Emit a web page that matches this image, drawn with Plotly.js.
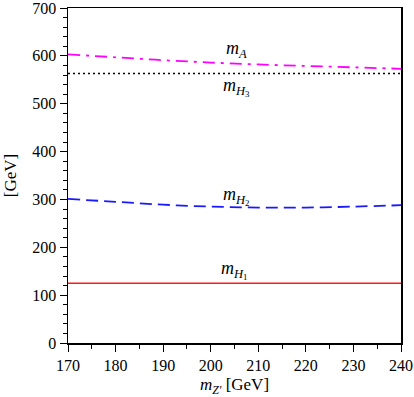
<!DOCTYPE html>
<html>
<head>
<meta charset="utf-8">
<script src="https://cdn.plot.ly/plotly-3.0.1.min.js"></script>
<style>
  body { margin: 0; background: #fff; }
  #plotArea { width: 414px; height: 397px; }
</style>
</head>
<body>
<div id="plotArea"></div>
<script>
// Z' mass scan
var mZp = [170, 180, 190, 200, 210, 220, 230, 240];
var mH1 = [125, 125, 125, 125, 125, 125, 125, 125];
var mH2 = [301, 295, 289, 285, 283, 283, 285, 288];
var mH3 = [563, 563, 563, 563, 563, 563, 563, 563];
var mA = [603, 597, 591, 586, 582, 579, 576, 573];

var xTicks = [170, 180, 190, 200, 210, 220, 230, 240];
var yTicks = [0, 100, 200, 300, 400, 500, 600, 700];

var labelText = ["<i>m</i><sub><i>A</i></sub>", "<i>m</i><sub><i>H</i><sub>3</sub></sub>",
                 "<i>m</i><sub><i>H</i><sub>2</sub></sub>", "<i>m</i><sub><i>H</i><sub>1</sub></sub>"];
var labelX = [205.5, 205.5, 205.5, 205];
var labelY = [613, 535, 308, 153];

var serif = "Liberation Serif, DejaVu Serif, serif";

var traceH1 = {x: mZp, y: mH1, mode: "lines", line: {color: "#ff1a1a", width: 1.6}};
var traceH2 = {x: mZp, y: mH2, mode: "lines", line: {color: "#1a1aff", width: 1.8, dash: "12px,6px", shape: "spline"}};
var traceH3 = {x: mZp, y: mH3, mode: "lines", line: {color: "#000000", width: 1.6, dash: "2px,3px"}};
var traceA = {x: mZp, y: mA, mode: "lines", line: {color: "#ff00ff", width: 1.8, dash: "12px,6px,3px,6px", shape: "spline"}};

var annotations = [];
for (var i = 0; i < labelText.length; i++) {
    annotations.push({x: labelX[i], y: labelY[i], text: labelText[i], showarrow: false,
        font: {family: serif, size: 18, color: "#000"}});
}

var layout = {
    width: 414, height: 397,
    margin: {l: 68, r: 13, t: 8, b: 54},
    showlegend: false,
    plot_bgcolor: "#fff", paper_bgcolor: "#fff",
    font: {family: serif, size: 16, color: "#000"},
    xaxis: {
        range: [170, 240], tickmode: "array", tickvals: xTicks, ticklabeloverflow: "allow",
        showgrid: false, zeroline: false,
        showline: true, mirror: true, linecolor: "#000", linewidth: 1.5,
        ticks: "outside", ticklen: 7, tickcolor: "#000",
        minor: {dtick: 5, tick0: 170, ticks: "outside", ticklen: 4, tickcolor: "#000", showgrid: false},
        title: {text: "<i>m</i><sub><i>Z'</i></sub> [GeV]", font: {family: serif, size: 17}, standoff: 7}
    },
    yaxis: {
        range: [0, 700], tickmode: "array", tickvals: yTicks, ticklabeloverflow: "allow",
        showgrid: false, zeroline: false,
        showline: true, mirror: true, linecolor: "#000", linewidth: 1.5,
        ticks: "outside", ticklen: 7, tickcolor: "#000",
        minor: {dtick: 20, tick0: 0, ticks: "outside", ticklen: 4, tickcolor: "#000", showgrid: false},
        title: {text: "[GeV]", font: {family: serif, size: 17}, standoff: 11}
    },
    annotations: annotations
};

Plotly.newPlot("plotArea", [traceH1, traceH2, traceH3, traceA], layout, {displayModeBar: false, staticPlot: true});
</script>
</body>
</html>
